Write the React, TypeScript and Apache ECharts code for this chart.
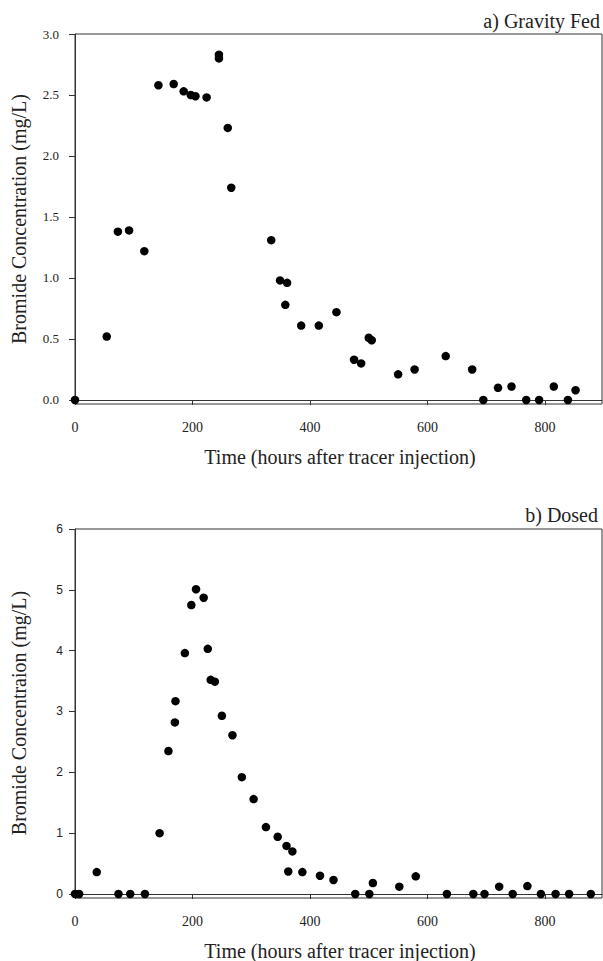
import React, { useEffect, useRef } from "react";
import * as echarts from "echarts";

// a) Gravity Fed
const gravityTime = [0, 54, 73, 92, 118, 142, 168, 185, 197, 205, 224, 245, 245, 260, 266, 334, 349, 358, 361, 385, 415, 445, 475, 487, 500, 505, 550, 578, 631, 676, 695, 720, 743, 768, 790, 815, 839, 852];
const gravityConc = [0, 0.52, 1.38, 1.39, 1.22, 2.58, 2.59, 2.53, 2.5, 2.49, 2.48, 2.83, 2.8, 2.23, 1.74, 1.31, 0.98, 0.78, 0.96, 0.61, 0.61, 0.72, 0.33, 0.3, 0.51, 0.49, 0.21, 0.25, 0.36, 0.25, 0, 0.1, 0.11, 0, 0, 0.11, 0, 0.08];

// b) Dosed
const dosedTime = [0, 7, 37, 74, 94, 119, 144, 159, 170, 171, 187, 198, 206, 219, 226, 231, 238, 250, 268, 284, 304, 325, 345, 360, 363, 370, 387, 417, 440, 477, 501, 507, 552, 580, 633, 678, 697, 722, 745, 770, 793, 818, 841, 878];
const dosedConc = [0, 0, 0.36, 0, 0, 0, 1.0, 2.35, 2.82, 3.17, 3.96, 4.75, 5.01, 4.87, 4.03, 3.52, 3.49, 2.93, 2.61, 1.92, 1.56, 1.1, 0.94, 0.79, 0.37, 0.7, 0.36, 0.3, 0.23, 0, 0, 0.18, 0.12, 0.29, 0, 0, 0, 0.12, 0, 0.13, 0, 0, 0, 0];

const xTicks = [0, 200, 400, 600, 800];
const gravityTicks = [0, 0.5, 1.0, 1.5, 2.0, 2.5, 3.0];
const dosedTicks = [0, 1, 2, 3, 4, 5, 6];

const xTitle = "Time (hours after tracer injection)";
const gravityYTitle = "Bromide Concentration (mg/L)";
const dosedYTitle = "Bromide Concentraion (mg/L)";
const gravityPanel = "a) Gravity Fed";
const dosedPanel = "b) Dosed";

const SERIF = "'Liberation Serif', 'DejaVu Serif', serif";
const SANS = "'Liberation Sans', Arial, sans-serif";
const AX = "#333";
const TXT = "#222";

export default function App() {
  const ref = useRef<HTMLDivElement>(null);
  useEffect(() => {
    if (!ref.current) return;
    const chart = echarts.init(ref.current, undefined, { renderer: "svg" });
    const gridL = 75;
    const gridW = 527;
    const xMax = 897;
    const xAxisBase = (gi: number) => ({
      type: "value",
      gridIndex: gi,
      min: 0,
      max: xMax,
      axisLine: { show: true, lineStyle: { color: AX, width: 1 } },
      axisTick: { show: true, inside: false, length: 5, customValues: xTicks, lineStyle: { color: AX } },
      axisLabel: { show: true, customValues: xTicks, margin: 16, fontFamily: SERIF, fontSize: 14, color: TXT },
      splitLine: { show: false },
    });
    const option: any = {
      animation: false,
      backgroundColor: "#fff",
      grid: [
        { left: gridL, width: gridW, top: 34, height: 370, show: true, borderColor: AX, borderWidth: 1 },
        { left: gridL, width: gridW, top: 529, height: 369, show: true, borderColor: AX, borderWidth: 1 },
      ],
      xAxis: [xAxisBase(0), xAxisBase(1)],
      yAxis: [
        {
          type: "value",
          gridIndex: 0,
          min: -0.033,
          max: 3.0,
          axisLine: { show: true, lineStyle: { color: AX, width: 1 } },
          axisTick: { show: true, inside: false, length: 6, customValues: gravityTicks, lineStyle: { color: AX } },
          axisLabel: {
            show: true,
            customValues: gravityTicks,
            margin: 16,
            fontFamily: SERIF,
            fontSize: 13,
            color: TXT,
            formatter: (v: number) => v.toFixed(1),
          },
          splitLine: { show: false },
        },
        {
          type: "value",
          gridIndex: 1,
          min: -0.066,
          max: 6,
          axisLine: { show: true, lineStyle: { color: AX, width: 1 } },
          axisTick: { show: true, inside: false, length: 6, customValues: dosedTicks, lineStyle: { color: AX } },
          axisLabel: {
            show: true,
            customValues: dosedTicks,
            margin: 12,
            fontFamily: SANS,
            fontSize: 12,
            color: TXT,
            formatter: (v: number) => String(Math.round(v)),
          },
          splitLine: { show: false },
        },
      ],
      series: [
        {
          type: "scatter",
          xAxisIndex: 0,
          yAxisIndex: 0,
          symbol: "circle",
          symbolSize: 8.5,
          clip: false,
          itemStyle: { color: "#000", opacity: 1 },
          data: gravityTime.map((t, i) => [t, gravityConc[i]]),
        },
        {
          type: "scatter",
          xAxisIndex: 1,
          yAxisIndex: 1,
          symbol: "circle",
          symbolSize: 8.5,
          clip: false,
          itemStyle: { color: "#000", opacity: 1 },
          data: dosedTime.map((t, i) => [t, dosedConc[i]]),
        },
      ],
      graphic: [
        {
          type: "text",
          right: 3,
          top: 11,
          style: { text: gravityPanel, font: `20px ${SERIF}`, fill: TXT },
        },
        {
          type: "text",
          right: 5,
          top: 505,
          style: { text: dosedPanel, font: `20px ${SERIF}`, fill: TXT },
        },
        {
          type: "text",
          x: 340,
          y: 457,
          style: { text: xTitle, font: `20px ${SERIF}`, fill: TXT, align: "center", verticalAlign: "middle" },
        },
        {
          type: "text",
          x: 340,
          y: 951,
          style: { text: xTitle, font: `20px ${SERIF}`, fill: TXT, align: "center", verticalAlign: "middle" },
        },
        {
          type: "text",
          x: 19,
          y: 219,
          rotation: Math.PI / 2,
          style: { text: gravityYTitle, font: `20px ${SERIF}`, fill: TXT, align: "center", verticalAlign: "middle" },
        },
        {
          type: "text",
          x: 19,
          y: 713,
          rotation: Math.PI / 2,
          style: { text: dosedYTitle, font: `20px ${SERIF}`, fill: TXT, align: "center", verticalAlign: "middle" },
        },
      ],
    };
    chart.setOption(option);
    return () => chart.dispose();
  }, []);
  return <div ref={ref} style={{ position: "absolute", left: 0, top: 0, width: 603, height: 961 }} />;
}
